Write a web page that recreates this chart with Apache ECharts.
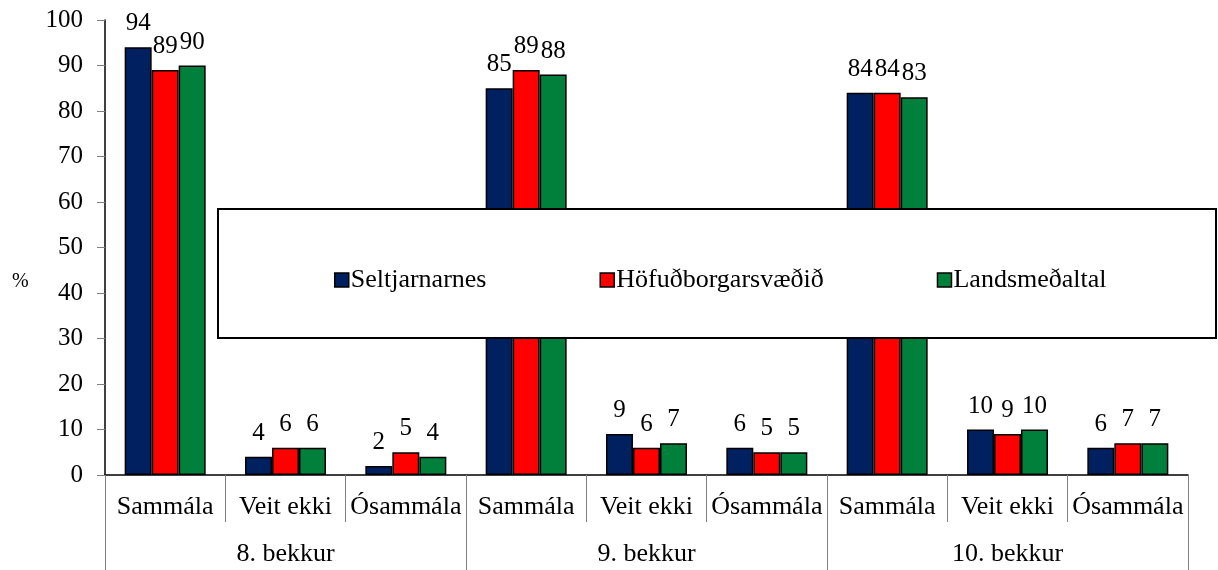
<!DOCTYPE html>
<html>
<head>
<meta charset="utf-8">
<script src="https://cdn.jsdelivr.net/npm/echarts@6/dist/echarts.min.js"></script>
<style>
  html, body { margin: 0; padding: 0; background: #fff; }
  #chart { width: 1218px; height: 570px; }
</style>
</head>
<body>
<div id="chart"></div>
<script>
// answer categories, repeated per grade
const answers = ['Sammála', 'Veit ekki', 'Ósammála',
  'Sammála', 'Veit ekki', 'Ósammála',
  'Sammála', 'Veit ekki', 'Ósammála']
const grades = ['8. bekkur', '9. bekkur', '10. bekkur']
const seriesNames = ['Seltjarnarnes', 'Höfuðborgarsvæðið', 'Landsmeðaltal']
const seltjarnarnes = [94, 4, 2, 85, 9, 6, 84, 10, 6]
const hofudborg = [89, 6, 5, 89, 6, 5, 84, 9, 7]
const landsmedaltal = [90, 6, 4, 88, 7, 5, 83, 10, 7]
const yTicks = [0, 10, 20, 30, 40, 50, 60, 70, 80, 90, 100]

const colors = ['#002060', '#FF0000', '#00803A']
const font = '"Liberation Serif", "Times New Roman", serif'

const chart = echarts.init(document.getElementById('chart'))

function makeSeries(name, data, i) {
  return {
    name: name,
    type: 'bar',
    data: data,
    barWidth: 27,
    barGap: '0%',
    z: 2,
    itemStyle: {
      color: colors[i],
      borderColor: '#000',
      borderWidth: 1.5
    },
    label: {
      show: true,
      position: 'top',
      distance: 11,
      color: '#000',
      fontFamily: font,
      fontSize: 25
    }
  }
}

const option = {
  animation: false,
  textStyle: { fontFamily: font },
  grid: { left: 105, right: 30, top: 20, bottom: 95 },
  graphic: [
    {
      type: 'rect',
      z: 10,
      shape: { x: 218, y: 209, width: 998, height: 129 },
      style: { fill: '#fff', stroke: '#000', lineWidth: 2 }
    },
    {
      type: 'text',
      z: 10,
      left: 12,
      top: 272,
      style: { text: '%', fill: '#000', font: '20px ' + font }
    }
  ],
  legend: {
    z: 20,
    left: 329,
    top: 262,
    itemWidth: 14,
    itemHeight: 14,
    itemGap: 113,
    icon: 'rect',
    data: seriesNames,
    textStyle: { fontFamily: font, fontSize: 26, color: '#000', padding: [0, 0, 0, -3] },
    itemStyle: { borderColor: '#000', borderWidth: 1.5 }
  },
  xAxis: [
    {
      type: 'category',
      data: answers,
      position: 'bottom',
      axisLine: { show: true, lineStyle: { color: '#000', width: 1.5 } },
      axisTick: { show: true, alignWithLabel: false, interval: 0, length: 47, lineStyle: { color: '#808080', width: 1 } },
      axisLabel: { interval: 0, margin: 19, color: '#000', fontFamily: font, fontSize: 26 }
    },
    {
      type: 'category',
      data: grades,
      position: 'bottom',
      axisLine: { show: false },
      axisTick: { show: true, interval: 0, length: 95, lineStyle: { color: '#808080', width: 1 } },
      axisLabel: { interval: 0, margin: 66, color: '#000', fontFamily: font, fontSize: 26 }
    }
  ],
  yAxis: {
    type: 'value',
    min: yTicks[0],
    max: yTicks[yTicks.length - 1],
    interval: 10,
    splitLine: { show: false },
    axisLine: { show: true, lineStyle: { color: '#000', width: 1.5 } },
    axisTick: { show: true, length: 8, lineStyle: { color: '#808080' } },
    axisLabel: { margin: 22, color: '#000', fontFamily: font, fontSize: 25 }
  },
  series: [
    makeSeries(seriesNames[0], seltjarnarnes, 0),
    makeSeries(seriesNames[1], hofudborg, 1),
    makeSeries(seriesNames[2], landsmedaltal, 2)
  ]
}

chart.setOption(option)
</script>
</body>
</html>
